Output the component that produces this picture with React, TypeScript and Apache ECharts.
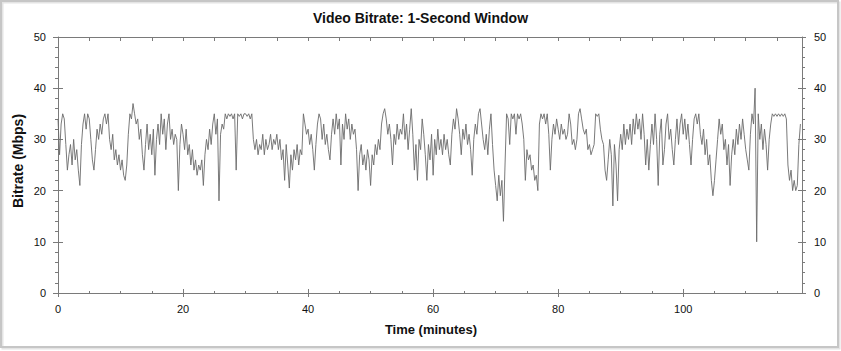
import { useEffect, useRef } from "react";
import * as echarts from "echarts";

// Sampling step of the readings below (minutes)
const STEP_MIN = 0.25;

// Bitrate readings (Mbps), one per 0.25 minute
const bitrate000 = [
  34, 27, 33, 35, 34, 29, 24, 27, 29, 25, 30, 26, 28, 24, 21, 29, 33, 35, 32, 35,
  34, 30, 26, 24, 28, 32, 30, 33, 31, 34, 35, 33, 35, 30, 28, 31, 26, 28, 25, 27,
];
const bitrate010 = [
  24, 26, 23, 22, 25, 31, 35, 34, 37, 35, 33, 34, 30, 32, 27, 24, 29, 33, 28, 31,
  27, 32, 23, 30, 33, 29, 35, 31, 34, 28, 33, 35, 30, 32, 29, 31, 30, 20, 29, 33,
];
const bitrate020 = [
  31, 28, 32, 27, 29, 25, 28, 24, 26, 23, 25, 24, 26, 21, 27, 30, 28, 32, 29, 33,
  35, 31, 34, 18, 31, 33, 32, 35, 34, 35, 34.5, 35, 34, 35, 24, 35, 34.5, 35, 34, 35,
];
const bitrate030 = [
  35, 34.5, 35, 34, 35, 30, 28, 30, 27, 29, 28, 31, 27, 30, 28, 29, 31, 28, 30, 29,
  31, 28, 30, 26, 28, 22, 29, 25, 20.5, 27, 24, 28, 26, 29, 25, 28, 27, 35, 33, 31,
];
const bitrate040 = [
  32, 29, 31, 28, 24, 29, 33, 35, 34, 30, 33, 29, 31, 28, 26, 31, 34, 31, 35, 32,
  34, 25, 33, 30, 35, 32, 34, 30, 33, 31, 32, 28, 20, 27, 29, 25, 27, 24, 28, 26,
];
const bitrate050 = [
  21, 27, 25, 29, 27, 30, 28, 33, 35, 36, 34, 31, 33, 30, 25, 31, 29, 33, 30, 32,
  31, 35, 30, 33, 28, 32, 36, 31, 24, 29, 22, 30, 28, 34, 31, 27, 22, 29, 26, 31,
];
const bitrate060 = [
  23, 30, 27, 32, 28, 30, 27, 31, 28, 30, 27, 25, 31, 34, 32, 36, 34, 31, 27, 32,
  30, 33, 29, 31, 28, 23, 30, 33, 31, 35, 36, 33, 30, 28, 31, 27, 32, 35, 29, 24,
];
const bitrate070 = [
  21, 18, 23, 19, 22, 14, 25, 35, 34, 29, 35, 34, 35, 31, 35, 34, 35, 33, 30, 22,
  28, 26, 27, 24, 25, 22, 23, 20, 33, 35, 34, 35, 33, 35, 31, 24, 30, 33, 31, 34,
];
const bitrate080 = [
  32, 30, 33, 31, 32, 30, 31, 35, 33, 29, 30, 28, 30, 35, 36, 34, 32, 31, 32, 28,
  29, 27, 28, 29, 35, 34.5, 35, 32, 30, 29, 24, 22, 26, 30, 27, 17, 29, 25, 18, 28,
];
const bitrate090 = [
  31, 28, 33, 29, 32, 30, 33, 29, 34, 31, 35, 32, 34, 30, 35, 31, 25, 30, 24, 29,
  33, 29, 35, 30, 21, 31, 34, 25, 28, 33, 35, 30, 32, 28, 25, 30, 34, 29, 33, 35,
];
const bitrate100 = [
  31, 34, 30, 33, 29, 25, 30, 34, 35, 33, 35, 31, 29, 32, 27, 30, 25, 27, 22, 19,
  22, 26, 30, 34, 31, 33, 28, 30, 25, 29, 21, 27, 30, 27, 32, 29, 33, 30, 34, 31,
];
const bitrate110 = [
  28, 26, 24, 31, 35, 33, 40, 10, 35, 30, 33, 28, 32, 29, 24, 30, 33, 35, 34.5, 35,
  34.5, 35, 34.5, 35, 34.5, 35, 34, 25, 22, 24, 20, 22, 20, 21, 29, 33,
];

// Axis ranges and tick spacing
const X_MIN = 0;
const X_MAX = 119;
const X_MAJOR = 20;
const X_MINOR = 5;
const Y_MIN = 0;
const Y_MAX = 50;
const Y_MAJOR = 10;
const Y_MINOR = 2;

const TITLE = "Video Bitrate: 1-Second Window";
const X_NAME = "Time (minutes)";
const Y_NAME = "Bitrate (Mbps)";

const FONT = "'Liberation Sans', Arial, Helvetica, sans-serif";
const AXIS_COLOR = "#7a7a7a";

export default function App() {
  const ref = useRef<HTMLDivElement>(null);

  useEffect(() => {
    if (!ref.current) return;
    const chart = echarts.init(ref.current, null, { renderer: "svg" });

    const values = [
      ...bitrate000, ...bitrate010, ...bitrate020, ...bitrate030,
      ...bitrate040, ...bitrate050, ...bitrate060, ...bitrate070,
      ...bitrate080, ...bitrate090, ...bitrate100, ...bitrate110,
    ];
    const data = values.map((v, i) => [i * STEP_MIN, v]);

    const lineStyle = { color: AXIS_COLOR, width: 1 };
    const xBase = (extra: any) => ({
      type: "value",
      min: X_MIN,
      max: X_MAX,
      splitLine: { show: false },
      axisLine: { show: false, onZero: false, lineStyle },
      axisLabel: { show: false },
      ...extra,
    });
    const yBase = (extra: any) => ({
      type: "value",
      min: Y_MIN,
      max: Y_MAX,
      splitLine: { show: false },
      axisLine: { show: false, onZero: false, lineStyle },
      axisLabel: { show: false },
      ...extra,
    });
    const labelStyle = { fontSize: 11, color: "#111", fontFamily: FONT };

    const option: any = {
      animation: false,
      backgroundColor: "#fff",
      title: {
        text: TITLE,
        left: "center",
        top: 6,
        textStyle: { fontSize: 14, fontWeight: "bold", color: "#111", fontFamily: FONT },
      },
      grid: { left: 58, right: 39, top: 37, bottom: 58, containLabel: false },
      xAxis: [
        xBase({
          position: "bottom",
          interval: X_MAJOR,
          axisLine: { show: true, onZero: false, lineStyle },
          axisTick: { show: true, inside: false, length: 4, lineStyle },
          axisLabel: { show: true, margin: 10, showMaxLabel: false, ...labelStyle },
        }),
        xBase({
          position: "bottom",
          interval: X_MINOR,
          axisTick: { show: true, inside: true, length: 2, lineStyle },
        }),
        xBase({
          position: "bottom",
          interval: X_MAJOR,
          axisTick: { show: true, inside: true, length: 4, lineStyle },
        }),
        xBase({
          position: "top",
          interval: X_MINOR,
          axisLine: { show: true, onZero: false, lineStyle },
          axisTick: { show: true, inside: true, length: 4, lineStyle },
        }),
      ],
      yAxis: [
        yBase({
          position: "left",
          interval: Y_MAJOR,
          axisLine: { show: true, onZero: false, lineStyle },
          axisTick: { show: true, inside: false, length: 5, lineStyle },
          axisLabel: { show: true, margin: 12, ...labelStyle },
        }),
        yBase({
          position: "left",
          interval: Y_MINOR,
          axisTick: { show: true, inside: false, length: 3, lineStyle },
        }),
        yBase({
          position: "left",
          interval: Y_MAJOR,
          axisTick: { show: true, inside: true, length: 5, lineStyle },
        }),
        yBase({
          position: "right",
          interval: Y_MAJOR,
          axisLine: { show: true, onZero: false, lineStyle },
          axisTick: { show: true, inside: false, length: 4, lineStyle },
          axisLabel: { show: true, margin: 12, ...labelStyle },
        }),
        yBase({
          position: "right",
          interval: Y_MINOR,
          axisTick: { show: true, inside: false, length: 3, lineStyle },
        }),
        yBase({
          position: "right",
          interval: Y_MAJOR,
          axisTick: { show: true, inside: true, length: 4, lineStyle },
        }),
      ],
      graphic: [
        {
          type: "rect",
          silent: true,
          z: -10,
          shape: { x: 2.5, y: 2.5, width: 837, height: 346 },
          style: { fill: "none", stroke: "#e4e4e4", lineWidth: 2 },
        },
        {
          type: "rect",
          silent: true,
          z: -9,
          shape: { x: 1, y: 1, width: 837, height: 346 },
          style: { fill: "none", stroke: "#c6c6c6", lineWidth: 2 },
        },
        {
          type: "text",
          x: 18,
          y: 161,
          rotation: Math.PI / 2,
          style: {
            text: Y_NAME,
            fill: "#111",
            font: `bold 14px ${FONT}`,
            align: "center",
            verticalAlign: "middle",
          },
        },
        {
          type: "text",
          x: 431,
          y: 329,
          style: {
            text: X_NAME,
            fill: "#111",
            font: `bold 13px ${FONT}`,
            align: "center",
            verticalAlign: "middle",
          },
        },
      ],
      series: [
        {
          type: "line",
          xAxisIndex: 0,
          yAxisIndex: 0,
          data,
          showSymbol: false,
          symbol: "none",
          sampling: undefined,
          lineStyle: { color: "#6b6b6b", width: 0.9 },
          z: 1,
        },
      ],
    };

    chart.setOption(option);
    return () => chart.dispose();
  }, []);

  return (
    <div
      ref={ref}
      style={{ position: "absolute", left: 0, top: 0, width: 841, height: 351, background: "#fff" }}
    />
  );
}
